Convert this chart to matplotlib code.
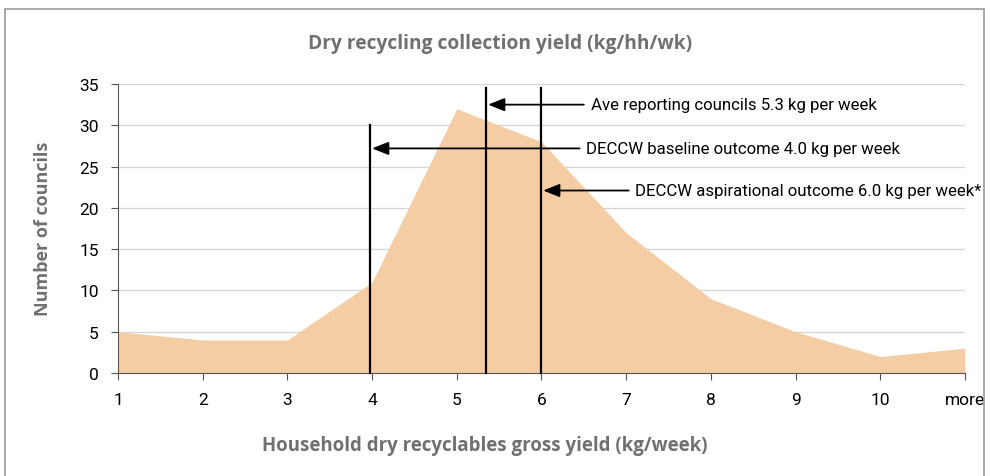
import matplotlib
matplotlib.use("Agg")
import matplotlib.pyplot as plt
from matplotlib.patches import Rectangle

categories = ["1", "2", "3", "4", "5", "6", "7", "8", "9", "10", "more"]
councils = [5, 4, 4, 11, 32, 28, 17, 9, 5, 2, 3]

# reference yields (kg/week) where the marker lines sit, and their notes
ref_values = [3.98, 5.35, 6.0]
ref_tops = [30, 34.5, 34.5]
ref_labels = ["DECCW baseline outcome 4.0 kg per week",
              "Ave reporting councils 5.3 kg per week",
              "DECCW aspirational outcome 6.0 kg per week*"]
arrow_y = [27.2, 32.5, 22.1]
arrow_start = [5.45, 5.5, 6.03]

narrow = ["Roboto", "DejaVu Sans"]
gray = "#707070"

fig = plt.figure(figsize=(9.9, 4.77), dpi=100)
ax = fig.add_axes([0.1192, 0.2159, 0.9747 - 0.1192, 0.8218 - 0.2159])

x = list(range(len(categories)))
ax.fill_between(x, councils, 0, color="#F5CDA5", linewidth=0, zorder=2)

ax.set_xlim(0, len(categories) - 1)
ax.set_ylim(0, 35)
ax.set_yticks(range(0, 36, 5))
ax.set_xticks(x)
ax.set_xticklabels(categories)
ax.grid(axis="y", color="#d4d4d4", linewidth=0.9, zorder=1)
ax.set_axisbelow(True)

for s in ["top", "right"]:
    ax.spines[s].set_visible(False)
ax.spines["left"].set_color("#555555")
ax.spines["bottom"].set_color("#555555")
ax.tick_params(axis="both", direction="out", length=5, color="#555555",
               labelsize=12.5)
ax.tick_params(axis="x", pad=9)
ax.tick_params(axis="y", pad=9)
for lab in ax.get_xticklabels() + ax.get_yticklabels():
    lab.set_family(narrow)

for v, top, lab, ay, ax0 in zip(ref_values, ref_tops, ref_labels, arrow_y, arrow_start):
    xi = v - 1
    ax.plot([xi, xi], [0, top], color="black", linewidth=1.6, zorder=4, clip_on=False)
    ax.annotate("", xy=(xi + 0.02, ay), xytext=(ax0, ay),
                arrowprops=dict(arrowstyle="-|>,head_length=1.0,head_width=0.4",
                                color="black", linewidth=1.3, shrinkA=0, shrinkB=0),
                zorder=5)
    ax.text(ax0 + 0.08, ay, lab, family=narrow, fontsize=12.1, va="center",
            ha="left", zorder=5, clip_on=False)

fig.text(0.505, 0.908, "Dry recycling collection yield (kg/hh/wk)", ha="center",
         va="center", fontsize=13.8, fontweight="bold", color=gray, family="Open Sans")
fig.text(0.49, 0.065, "Household dry recyclables gross yield (kg/week)", ha="center",
         va="center", fontsize=13.4, fontweight="bold", color=gray, family="Open Sans")
fig.text(0.043, 0.52, "Number of councils", ha="center", va="center", rotation=90,
         fontsize=13, fontweight="bold", color=gray, family="Open Sans")

# outer frame, open at the bottom
fig.patches.append(Rectangle((5 / 990, -0.1), 979 / 990, 1.1 - 10 / 477,
                             transform=fig.transFigure, fill=False,
                             edgecolor="#999999", linewidth=1.2))

fig.savefig("out.png", dpi=100)
